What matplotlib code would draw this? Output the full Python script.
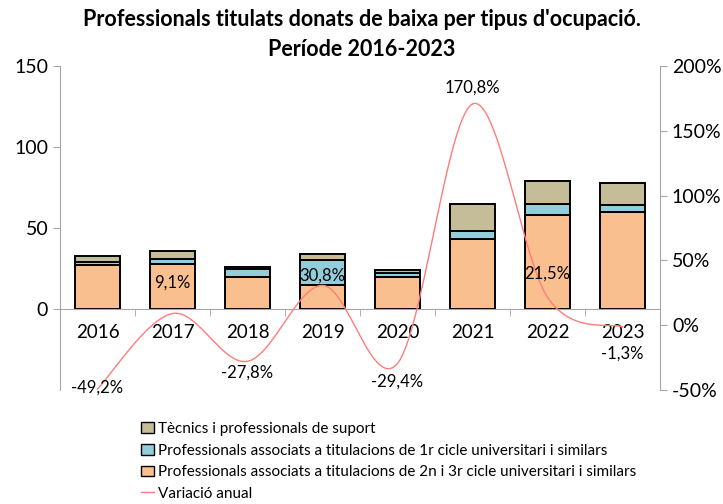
import numpy as np
import matplotlib
matplotlib.use('Agg')
import matplotlib.pyplot as plt
from matplotlib.patches import Patch
from matplotlib.lines import Line2D

# Dades
anys = ['2016', '2017', '2018', '2019', '2020', '2021', '2022', '2023']
cicle_2n_3r = [27, 28, 20, 15, 20, 43, 58, 60]
cicle_1r = [2, 3, 5, 15, 2, 5, 7, 4]
tecnics = [4, 5, 1, 4, 2, 17, 14, 14]
variacio = [-49.2, 9.1, -27.8, 30.8, -29.4, 170.8, 21.5, -1.3]
etiquetes_var = ['-49,2%', '9,1%', '-27,8%', '30,8%', '-29,4%', '170,8%', '21,5%', '-1,3%']

plt.rcParams['font.family'] = ['Lato', 'DejaVu Sans']

col_taronja = '#F9BF8F'
col_blau = '#92CDDC'
col_tan = '#C4BD97'
col_linia = '#FF7C7C'
col_eix = '#A6A6A6'

fig = plt.figure(figsize=(7.23, 5.04), dpi=100)
ax = fig.add_axes([0.083, 0.226, 0.83, 0.643])
ax2 = ax.twinx()

x = np.arange(len(anys))
w = 0.61
base1 = np.array(cicle_2n_3r)
base2 = base1 + np.array(cicle_1r)
ax.bar(x, cicle_2n_3r, w, color=col_taronja, edgecolor='black', linewidth=1.4, zorder=2)
ax.bar(x, cicle_1r, w, bottom=base1, color=col_blau, edgecolor='black', linewidth=1.4, zorder=2)
ax.bar(x, tecnics, w, bottom=base2, color=col_tan, edgecolor='black', linewidth=1.4, zorder=2)

ax.set_xlim(-0.5, len(anys) - 0.5)
ax.set_ylim(-50, 150)
ax.set_yticks([0, 50, 100, 150])
ax.spines['top'].set_visible(False)
ax.spines['bottom'].set_position(('data', 0))
ax.spines['bottom'].set_color(col_eix)
ax.spines['left'].set_color(col_eix)
ax.spines['right'].set_visible(False)
ax.set_xticks(x)
ax.set_xticklabels(anys, fontsize=13.5)
ax.set_xticks(np.arange(-0.5, len(anys)), minor=True)
ax.tick_params(axis='x', which='major', length=0, pad=11)
ax.tick_params(axis='x', which='minor', length=5, color=col_eix)
ax.tick_params(axis='y', length=5, color=col_eix, labelsize=14)

# línia suavitzada (Catmull-Rom) com a Excel
pts = np.column_stack([x, variacio]).astype(float)
ext = np.vstack([pts[0], pts, pts[-1]])
curva = []
for i in range(1, len(ext) - 2):
    p0, p1, p2, p3 = ext[i - 1], ext[i], ext[i + 1], ext[i + 2]
    for t in np.linspace(0, 1, 30):
        c = 0.5 * ((2 * p1) + (-p0 + p2) * t + (2 * p0 - 5 * p1 + 4 * p2 - p3) * t ** 2
                   + (-p0 + 3 * p1 - 3 * p2 + p3) * t ** 3)
        curva.append(c)
curva = np.array(curva)
ax2.plot(curva[:, 0], curva[:, 1], color=col_linia, linewidth=1, zorder=3)
ax2.set_ylim(-50, 200)
ax2.set_yticks([-50, 0, 50, 100, 150, 200])
ax2.set_yticklabels(['-50%', '0%', '50%', '100%', '150%', '200%'])
ax2.tick_params(axis='y', length=5, color=col_eix, labelsize=14)
for s in ['top', 'bottom', 'left']:
    ax2.spines[s].set_visible(False)
ax2.spines['right'].set_color(col_eix)

desp = [1, 22, -8, 7, -13, 12, 17, -19]
for xi, v, lab, d in zip(x, variacio, etiquetes_var, desp):
    ax2.annotate(lab, (xi, v), xytext=(0, d), textcoords='offset points',
                 ha='center', va='center', fontsize=12)

fig.suptitle("Professionals titulats donats de baixa per tipus d'ocupació.\nPeríode 2016-2023",
             fontsize=15.5, fontweight='bold', y=0.982, linespacing=1.5)

handles = [Patch(facecolor=col_tan, edgecolor='black'),
           Patch(facecolor=col_blau, edgecolor='black'),
           Patch(facecolor=col_taronja, edgecolor='black'),
           Line2D([0], [0], color=col_linia, linewidth=1)]
noms = ['Tècnics i professionals de suport',
        'Professionals associats a titulacions de 1r cicle universitari i similars',
        'Professionals associats a titulacions de 2n i 3r cicle universitari i similars',
        'Variació anual']
fig.legend(handles, noms, loc='upper left', bbox_to_anchor=(0.185, 0.178), frameon=False,
           fontsize=11, handlelength=0.8, handleheight=0.7, handletextpad=0.3,
           labelspacing=0.5, borderpad=0)

fig.savefig('out.png', dpi=100)
